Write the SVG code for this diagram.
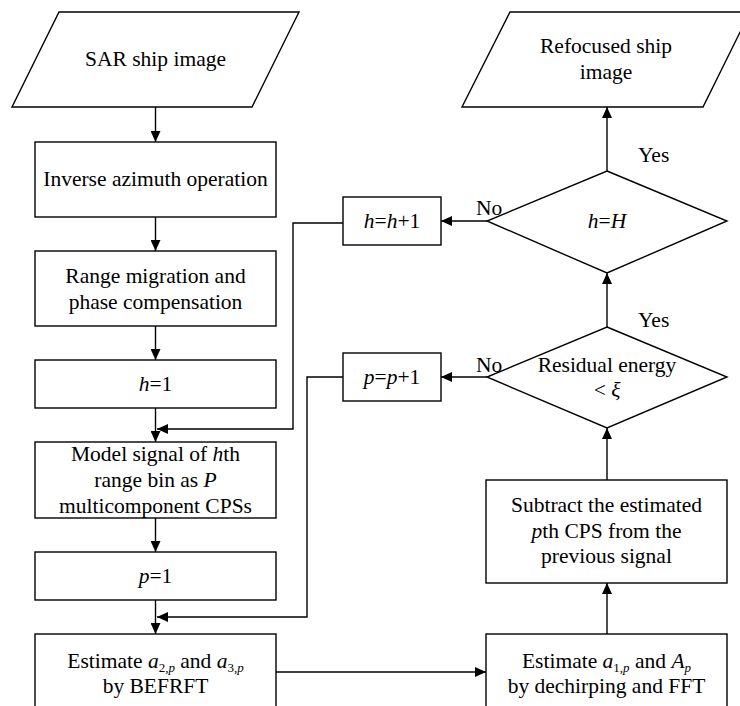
<svg xmlns="http://www.w3.org/2000/svg" width="740" height="706" viewBox="0 0 740 706">
<style>
.s{fill:#fff;stroke:#000;stroke-width:1.4}
.c{fill:none;stroke:#000;stroke-width:1.4}
text{font-family:"Liberation Serif","Times New Roman",serif;font-size:21.5px;fill:#000}
.m{text-anchor:middle}
.i{font-style:italic}
.sb{font-size:13px}
</style>
<defs>
<marker id="ah" viewBox="0 0 11 10" refX="11" refY="5" markerWidth="11" markerHeight="10" markerUnits="userSpaceOnUse" orient="auto">
<path d="M0,0 L11,5 L0,10 z" fill="#000"/>
</marker>
</defs>
<rect width="740" height="706" fill="#fff"/>
<g id="connectors">
<path class="c" d="M155.5,107 V142" marker-end="url(#ah)"/>
<path class="c" d="M155.5,217 V251" marker-end="url(#ah)"/>
<path class="c" d="M155.5,326 V360" marker-end="url(#ah)"/>
<path class="c" d="M155.5,408 V442" marker-end="url(#ah)"/>
<path class="c" d="M155.5,518 V552" marker-end="url(#ah)"/>
<path class="c" d="M155.5,600 V634" marker-end="url(#ah)"/>
<path class="c" d="M343,223 H293 V429 H157" marker-end="url(#ah)"/>
<path class="c" d="M343,377 H307 V617 H157" marker-end="url(#ah)"/>
<path class="c" d="M276,672 H486" marker-end="url(#ah)"/>
<path class="c" d="M607,634 V583" marker-end="url(#ah)"/>
<path class="c" d="M607,480 V428" marker-end="url(#ah)"/>
<path class="c" d="M607,327 V273" marker-end="url(#ah)"/>
<path class="c" d="M607,171 V107" marker-end="url(#ah)"/>
<path class="c" d="M487,377 H441" marker-end="url(#ah)"/>
<path class="c" d="M487,221 H441" marker-end="url(#ah)"/>
</g>
<g id="sar">
<polygon class="s" points="59,12 299,12 252,107 12,107"/>
<text class="m" x="155.5" y="66">SAR ship image</text>
</g>
<g id="inverse">
<rect class="s" x="35" y="142" width="241" height="75"/>
<text class="m" x="155.5" y="186">Inverse azimuth operation</text>
</g>
<g id="range">
<rect class="s" x="35" y="251" width="241" height="75"/>
<text class="m" x="155.5" y="283">Range migration and</text>
<text class="m" x="155.5" y="309">phase compensation</text>
</g>
<g id="h1">
<rect class="s" x="35" y="360" width="241" height="48"/>
<text class="m" x="155.5" y="391"><tspan class="i">h</tspan>=1</text>
</g>
<g id="model">
<rect class="s" x="35" y="442" width="241" height="76"/>
<text class="m" x="155.5" y="461">Model signal of <tspan class="i">h</tspan>th</text>
<text class="m" x="155.5" y="487">range bin as <tspan class="i">P</tspan></text>
<text class="m" x="155.5" y="513">multicomponent CPSs</text>
</g>
<g id="p1">
<rect class="s" x="35" y="552" width="241" height="48"/>
<text class="m" x="155.5" y="583"><tspan class="i">p</tspan>=1</text>
</g>
<g id="befrft">
<rect class="s" x="35" y="634" width="241" height="80"/>
<text class="m" x="155.5" y="668">Estimate <tspan class="i">a</tspan><tspan class="sb" dy="4">2,</tspan><tspan class="sb i">p</tspan><tspan dy="-4"> and </tspan><tspan class="i">a</tspan><tspan class="sb" dy="4">3,</tspan><tspan class="sb i">p</tspan></text>
<text class="m" x="155.5" y="693">by BEFRFT</text>
</g>
<g id="dechirp">
<rect class="s" x="486" y="634" width="241" height="80"/>
<text class="m" x="606.5" y="668">Estimate <tspan class="i">a</tspan><tspan class="sb" dy="4">1,</tspan><tspan class="sb i">p</tspan><tspan dy="-4"> and </tspan><tspan class="i">A</tspan><tspan class="sb i" dy="4">p</tspan></text>
<text class="m" x="606.5" y="693">by dechirping and FFT</text>
</g>
<g id="subtract">
<rect class="s" x="486" y="480" width="241" height="103"/>
<text class="m" x="606.5" y="512">Subtract the estimated</text>
<text class="m" x="606.5" y="537.5"><tspan class="i">p</tspan>th CPS from the</text>
<text class="m" x="606.5" y="563">previous signal</text>
</g>
<g id="residual">
<polygon class="s" points="607,327 727,377 607,428 487,377"/>
<text class="m" x="607" y="372">Residual energy</text>
<text class="m" x="607" y="397">&lt; <tspan class="i">ξ</tspan></text>
</g>
<g id="hH">
<polygon class="s" points="607,171 727,221 607,273 487,221"/>
<text class="m" x="607" y="228"><tspan class="i">h</tspan>=<tspan class="i">H</tspan></text>
</g>
<g id="refocused">
<polygon class="s" points="510,12 750,12 703,107 462,107"/>
<text class="m" x="606" y="53">Refocused ship</text>
<text class="m" x="606" y="79">image</text>
</g>
<g id="hinc">
<rect class="s" x="343" y="197" width="98" height="48"/>
<text class="m" x="392" y="228"><tspan class="i">h</tspan>=<tspan class="i">h</tspan>+1</text>
</g>
<g id="pinc">
<rect class="s" x="343" y="353" width="98" height="48"/>
<text class="m" x="392" y="384"><tspan class="i">p</tspan>=<tspan class="i">p</tspan>+1</text>
</g>
<g id="labels">
<text x="476" y="215">No</text>
<text x="476" y="372">No</text>
<text x="638" y="162">Yes</text>
<text x="638" y="327">Yes</text>
</g>
</svg>
